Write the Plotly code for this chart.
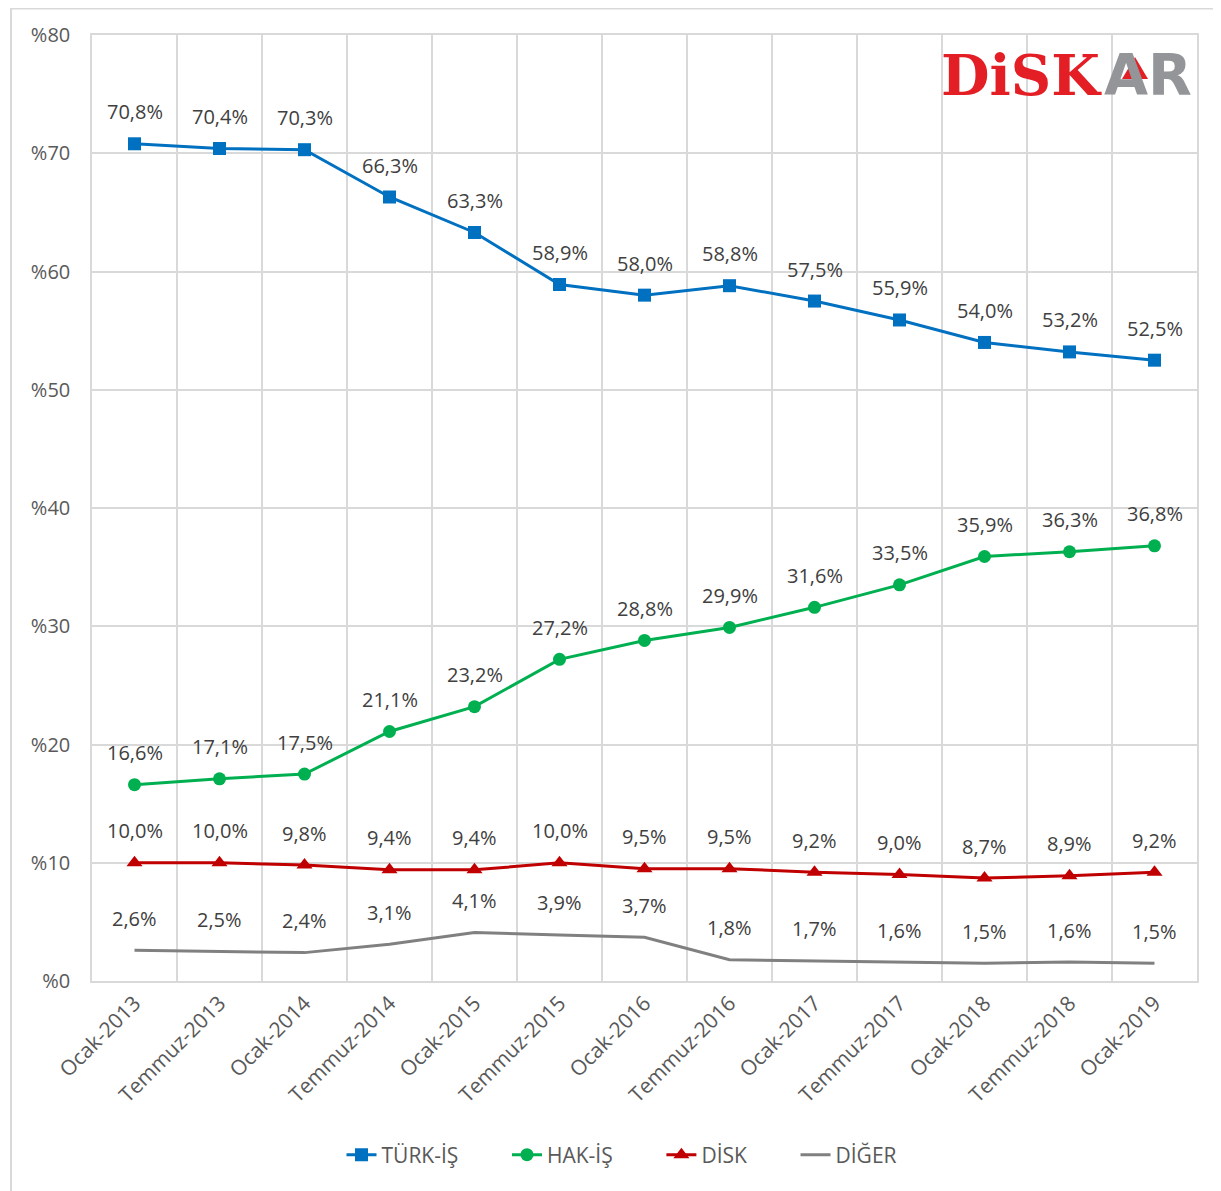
import plotly.graph_objects as go

categories = ["Ocak-2013", "Temmuz-2013", "Ocak-2014", "Temmuz-2014", "Ocak-2015",
              "Temmuz-2015", "Ocak-2016", "Temmuz-2016", "Ocak-2017", "Temmuz-2017",
              "Ocak-2018", "Temmuz-2018", "Ocak-2019"]
turk_is = [70.8, 70.4, 70.3, 66.3, 63.3, 58.9, 58.0, 58.8, 57.5, 55.9, 54.0, 53.2, 52.5]
hak_is = [16.6, 17.1, 17.5, 21.1, 23.2, 27.2, 28.8, 29.9, 31.6, 33.5, 35.9, 36.3, 36.8]
disk = [10.0, 10.0, 9.8, 9.4, 9.4, 10.0, 9.5, 9.5, 9.2, 9.0, 8.7, 8.9, 9.2]
diger = [2.6, 2.5, 2.4, 3.1, 4.1, 3.9, 3.7, 1.8, 1.7, 1.6, 1.5, 1.6, 1.5]
series_names = ["TÜRK-İŞ", "HAK-İŞ", "DİSK", "DİĞER"]

styles = [
    ("#0070C0", "square", 13),
    ("#00B050", "circle", 13),
    ("#C00000", "triangle-up", 14),
    ("#808080", None, 0),
]
values = [turk_is, hak_is, disk, diger]

FONT = "Open Sans"
TXT = "#404040"
AX = "#595959"
NB = "\u00a0"

# page has an 8px body margin; figure coordinates are page coordinates minus 8
OFF = 8
W, H = 1221 - OFF, 1191 - OFF
L, R, T, B = 92 - OFF, 1197 - OFF, 35 - OFF, 981 - OFF


def px(xp):
    return (xp - OFF - L) / (R - L)


def py(yp):
    return (B - (yp - OFF)) / (B - T)


fig = go.Figure()
annotations = []
for i, (name, vals, (color, sym, size)) in enumerate(zip(series_names, values, styles)):
    label = name + (NB * 8 if i < len(series_names) - 1 else "")
    if sym:
        fig.add_trace(go.Scatter(x=categories, y=vals, name=label, mode="lines+markers",
                                 line=dict(color=color, width=3),
                                 marker=dict(symbol=sym, size=size, color=color)))
    else:
        fig.add_trace(go.Scatter(x=categories, y=vals, name=label, mode="lines",
                                 line=dict(color=color, width=3)))
    for c, v in zip(categories, vals):
        annotations.append(dict(x=c, y=v, xref="x", yref="y",
                                text=f"{v:.1f}%".replace(".", ","),
                                showarrow=False, yshift=32,
                                font=dict(family=FONT, size=20, color=TXT)))

# logo
annotations.append(dict(xref="paper", yref="paper", x=px(1104), y=py(75), xanchor="right", yanchor="middle",
                        showarrow=False, text="<b>DiSK</b>",
                        font=dict(family="DejaVu Serif", size=56, color="#E31E24")))
annotations.append(dict(xref="paper", yref="paper", x=px(1194), y=py(75), xanchor="right", yanchor="middle",
                        showarrow=False, text="<b>AR</b>",
                        font=dict(family="DejaVu Sans", size=57, color="#939598")))

tri = "M {},{} L {},{} L {},{} Z".format(px(1135), py(57), px(1122), py(79), px(1148), py(79))

shapes = [
    dict(type="line", xref="paper", yref="paper", x0=px(11), x1=px(1230), y0=py(8.5), y1=py(8.5),
         line=dict(color="#D9D9D9", width=2)),
    dict(type="line", xref="paper", yref="paper", x0=px(11), x1=px(11), y0=py(8), y1=py(1200),
         line=dict(color="#D9D9D9", width=2)),
    dict(type="path", xref="paper", yref="paper", path=tri, fillcolor="#E31E24",
         line=dict(width=0), layer="above"),
]

fig.update_layout(
    width=W, height=H,
    margin=dict(l=L, r=W - R, t=T, b=H - B),
    paper_bgcolor="white", plot_bgcolor="white",
    font=dict(family=FONT, size=20, color=AX),
    showlegend=True,
    legend=dict(orientation="h", x=px(622), y=py(1155), xanchor="center", yanchor="middle",
                font=dict(family=FONT, size=21, color=AX)),
    annotations=annotations,
    shapes=shapes,
)
fig.update_xaxes(type="category", tickson="boundaries", showgrid=True, gridcolor="#D9D9D9", gridwidth=1.5,
                 showline=True, linecolor="#D9D9D9", linewidth=1.5, mirror=True,
                 ticks="outside", ticklen=6, tickcolor="rgba(0,0,0,0)",
                 tickangle=-45, tickfont=dict(family=FONT, size=21, color=AX),
                 range=[-0.5, 12.5])
fig.update_yaxes(range=[0, 80], dtick=10, tickprefix="%", showgrid=True, gridcolor="#D9D9D9", gridwidth=1.5,
                 showline=True, linecolor="#D9D9D9", linewidth=1.5, mirror=True, zeroline=False,
                 ticks="outside", ticklen=16, tickcolor="rgba(0,0,0,0)",
                 tickfont=dict(family=FONT, size=20, color=AX))

fig.write_html("out.html")
